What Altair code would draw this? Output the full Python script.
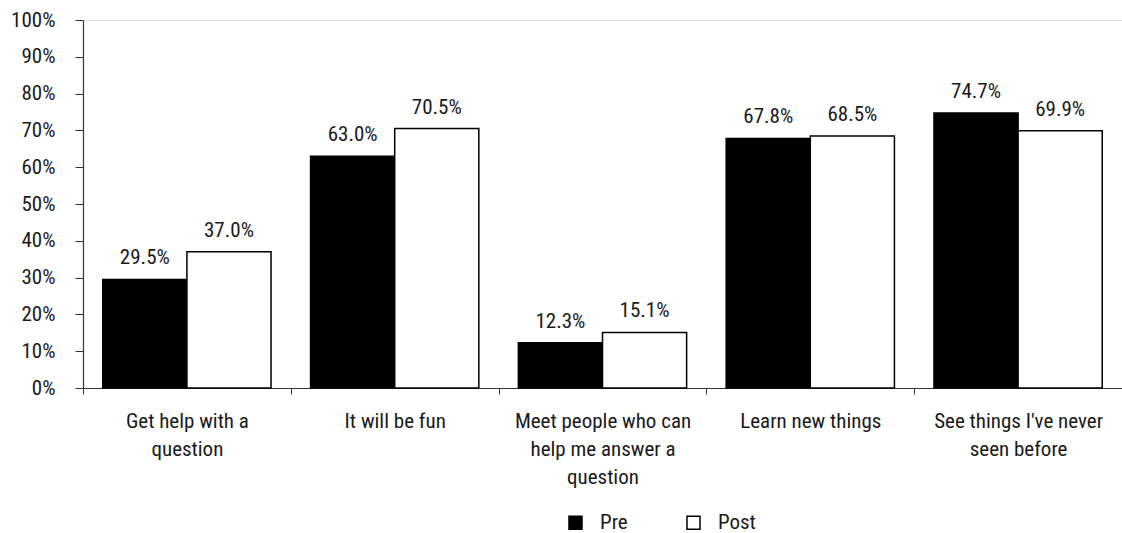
import altair as alt
import pandas as pd

# Survey reasons, wrapped lines for the axis labels
categories = [
    "Get help with a question",
    "It will be fun",
    "Meet people who can help me answer a question",
    "Learn new things",
    "See things I've never seen before",
]
label_lines = [
    ["Get help with a", "question"],
    ["It will be fun"],
    ["Meet people who can", "help me answer a", "question"],
    ["Learn new things"],
    ["See things I've never", "seen before"],
]
groups = ["Pre", "Post"]
pre_values = [29.5, 63.0, 12.3, 67.8, 74.7]
post_values = [37.0, 70.5, 15.1, 68.5, 69.9]

rows = []
for cat, pre, post in zip(categories, pre_values, post_values):
    rows.append({"reason": cat, "group": "Pre", "value": pre / 100})
    rows.append({"reason": cat, "group": "Post", "value": post / 100})
df = pd.DataFrame(rows)

FONT = "Roboto Condensed, Liberation Sans Narrow, Arial Narrow, sans-serif"
TEXT = "#1a1a1a"
FS = 21

# lookup table for multi-line category labels
pairs = ", ".join(
    "'" + c.replace("'", "\\'") + "': [" + ", ".join("'" + l.replace("'", "\\'") + "'" for l in lines) + "]"
    for c, lines in zip(categories, label_lines)
)
label_expr = "{" + pairs + "}[datum.value]"

x_enc = alt.X(
    "reason:N",
    sort=categories,
    scale=alt.Scale(paddingInner=0, paddingOuter=0),
    axis=alt.Axis(
        title=None,
        labelAngle=0,
        labelExpr=label_expr,
        labelFont=FONT,
        labelFontSize=FS,
        labelColor=TEXT,
        labelLineHeight=28,
        labelPadding=16,
        labelLimit=300,
        tickBand="extent",
        tickSize=6,
        tickColor="#333333",
        domainColor="#333333",
        domainWidth=1.2,
    ),
)
xoff = alt.XOffset(
    "group:N",
    sort=groups,
    scale=alt.Scale(paddingInner=0, paddingOuter=0.235),
)
y_enc = alt.Y(
    "value:Q",
    scale=alt.Scale(domain=[0, 1], nice=False),
    axis=alt.Axis(
        title=None,
        format=".0%",
        values=[round(i * 0.1, 1) for i in range(11)],
        grid=False,
        labelOverlap=False,
        labelFont=FONT,
        labelFontSize=FS,
        labelColor=TEXT,
        labelPadding=20,
        tickSize=8,
        tickColor="#333333",
        domainColor="#333333",
        domainWidth=1.2,
    ),
)

base = alt.Chart(df).encode(x=x_enc, xOffset=xoff, y=y_enc)

bars = base.mark_bar(stroke="black", strokeWidth=1.5).encode(
    fill=alt.Fill(
        "group:N",
        sort=groups,
        scale=alt.Scale(domain=groups, range=["black", "white"]),
        legend=alt.Legend(
            title=None,
            orient="none",
            direction="horizontal",
            legendX=482,
            legendY=492,
            symbolType="square",
            symbolSize=170,
            symbolStrokeColor="black",
            symbolStrokeWidth=1.5,
            labelFont=FONT,
            labelFontSize=FS,
            labelColor=TEXT,
            labelOffset=14,
            columnPadding=55,
            padding=0,
        ),
    ),
)

labels = base.mark_text(
    baseline="alphabetic", dy=-15, font=FONT, fontSize=FS, color=TEXT
).encode(
    text=alt.Text("value:Q", format=".1%"),
)

chart = (
    alt.layer(bars, labels)
    .properties(
        width=1039,
        height=368,
        autosize=alt.AutoSizeParams(type="none"),
        padding={"left": 83, "top": 20, "right": 0, "bottom": 145},
    )
    .configure_view(stroke=None)
    .configure(background="white")
)

chart.save("out.html", embed_options={"renderer": "svg", "actions": False})
